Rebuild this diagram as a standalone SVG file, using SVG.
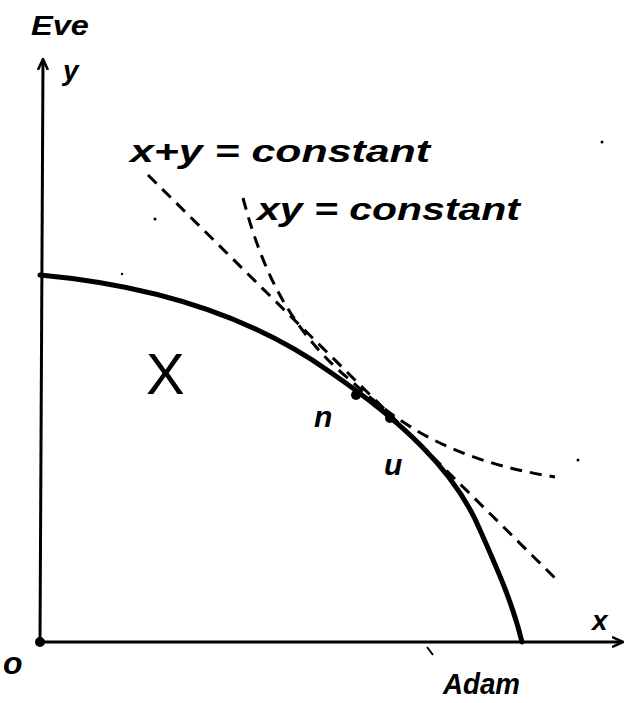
<svg xmlns="http://www.w3.org/2000/svg" width="635" height="703" viewBox="0 0 635 703">
<defs>
<style>
.ax{stroke:#000;stroke-width:3;fill:none}
.fr{stroke:#000;stroke-width:5;fill:none;stroke-linecap:round}
.ds{stroke:#000;stroke-width:3;fill:none;stroke-dasharray:12 8}
.t{font-family:"Liberation Sans",Arial,sans-serif;font-style:italic;font-weight:bold;fill:#000}
</style>
<marker id="ah" markerWidth="12" markerHeight="12" refX="10" refY="6" orient="auto" markerUnits="userSpaceOnUse">
<path d="M0,1 L11,6 L0,11" fill="none" stroke="#000" stroke-width="2.5"/>
</marker>
</defs>
<rect width="635" height="703" fill="#fff"/>
<g id="axes">
<line class="ax" x1="40" y1="642" x2="43" y2="60" marker-end="url(#ah)"/>
<line class="ax" x1="40" y1="642" x2="622" y2="642" marker-end="url(#ah)"/>
<circle cx="40" cy="642" r="5" fill="#000"/>
</g>
<g id="labels">
<text class="t" x="31" y="35" font-size="28" textLength="58" lengthAdjust="spacingAndGlyphs">Eve</text>
<text class="t" x="63" y="80" font-size="28">y</text>
<text class="t" x="3" y="674" font-size="32">o</text>
<text class="t" x="592" y="630" font-size="28">x</text>
<text class="t" x="443" y="694" font-size="30" textLength="77" lengthAdjust="spacingAndGlyphs">Adam</text>
<text class="t" x="130" y="162" font-size="32" textLength="300" lengthAdjust="spacingAndGlyphs">x+y = constant</text>
<text class="t" x="257" y="220" font-size="32" textLength="263" lengthAdjust="spacingAndGlyphs">xy = constant</text>
<text class="t" x="314" y="427" font-size="30">n</text>
<text class="t" x="384" y="475" font-size="30">u</text>
<text x="146" y="394" font-size="58" font-family="Liberation Sans,Arial,sans-serif" font-weight="normal">X</text>
</g>
<g id="frontier">
<path class="fr" d="M40,275 C150,285 250,315 330,372 C400,420 455,470 480,530 C500,575 513,605 522,642"/>
<circle cx="356" cy="395" r="5" fill="#000"/>
<circle cx="390" cy="418" r="5" fill="#000"/>
</g>
<g id="connectors">
<line class="ds" x1="148" y1="175" x2="555" y2="578"/>
<path class="ds" d="M243,198 C262,270 290,330 350,380 C400,425 450,460 555,477"/>
</g>
<g id="specks" fill="#000">
<circle cx="602" cy="142" r="1.5"/>
<circle cx="155" cy="219" r="1.5"/>
<circle cx="122" cy="274" r="1.2"/>
<circle cx="578" cy="460" r="1.5"/>
<path d="M427,647 l6,8" stroke="#000" stroke-width="2"/>
</g>
</svg>
